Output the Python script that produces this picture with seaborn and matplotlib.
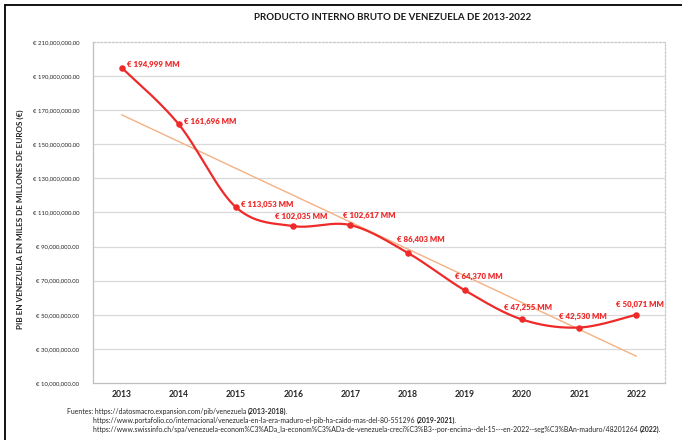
import numpy as np
import pandas as pd
import matplotlib
matplotlib.use("Agg")
import matplotlib.pyplot as plt
from matplotlib.lines import Line2D
from matplotlib.ticker import FuncFormatter, FixedLocator
import seaborn as sns

# ---------------- data ----------------
years = ["2013", "2014", "2015", "2016", "2017", "2018", "2019", "2020", "2021", "2022"]
gdp_mm = [194999, 161696, 113053, 102035, 102617, 86403, 64370, 47255, 42530, 50071]  # millones de euros
y_ticks = [10e6, 30e6, 50e6, 70e6, 90e6, 110e6, 130e6, 150e6, 170e6, 190e6, 210e6]
title = "PRODUCTO INTERNO BRUTO DE VENEZUELA DE 2013-2022"
ylabel = "PIB EN VENEZUELA EN MILES DE MILLONES DE EUROS (€)"
sources = [
    ("Fuentes: https://datosmacro.expansion.com/pib/venezuela ", "(2013-2018)."),
    ("https://www.portafolio.co/internacional/venezuela-en-la-era-maduro-el-pib-ha-caido-mas-del-80-551296 ", "(2019-2021)."),
    ("https://www.swissinfo.ch/spa/venezuela-econom%C3%ADa_la-econom%C3%ADa-de-venezuela-creci%C3%B3--por-encima--del-15---en-2022--seg%C3%BAn-maduro/48201264 ", "(2022)."),
]

# label placement (pixel offsets from each point), style only
label_offsets = [(5, 3, "left"), (5, 3, "left"), (5, 3, "left"), (8, 6, "center"),
                 (19, 6, "center"), (13, 10, "center"), (14, 10, "center"),
                 (6, 8, "center"), (4, 8, "center"), (4, 7, "center")]

RED = "#EE2A2A"
TREND = "#F4B183"
GRID = "#D9D9D9"

sns.set_theme(style="white")
plt.rcParams["font.family"] = ["Lato", "DejaVu Sans"]

df = pd.DataFrame({"idx": np.arange(len(years)), "value": np.array(gdp_mm) * 1000.0})

# Excel-like smoothed line (Catmull-Rom / Bezier through the points)
def smooth(x, y, n=40):
    x = np.asarray(x, float); y = np.asarray(y, float)
    P = np.column_stack([x, y])
    out = []
    for i in range(len(P) - 1):
        p0 = P[i - 1] if i > 0 else P[i]
        p1 = P[i]
        p2 = P[i + 1]
        p3 = P[i + 2] if i + 2 < len(P) else P[i + 1]
        c1 = p1 + (p2 - p0) / 6.0
        c2 = p2 - (p3 - p1) / 6.0
        t = np.linspace(0, 1, n)[:, None]
        seg = ((1 - t) ** 3) * p1 + 3 * ((1 - t) ** 2) * t * c1 + 3 * (1 - t) * t ** 2 * c2 + t ** 3 * p2
        out.append(seg if i == 0 else seg[1:])
    s = np.vstack(out)
    return s[:, 0], s[:, 1]

sx, sy = smooth(df["idx"], df["value"])
curve = pd.DataFrame({"x": sx, "y": sy})

fig = plt.figure(figsize=(6.82, 4.40), dpi=100)
ax = fig.add_axes([93 / 682, 1 - 383 / 440, (665 - 93) / 682, (383 - 42) / 440])

# grid
for t in y_ticks[1:-1]:
    ax.axhline(t, color=GRID, lw=0.9, zorder=0)

# trend line
sns.regplot(data=df, x="idx", y="value", scatter=False, ci=None, truncate=True,
            line_kws=dict(color=TREND, lw=1.0, zorder=2), ax=ax)
# smooth line
sns.lineplot(data=curve, x="x", y="y", color=RED, lw=1.6, sort=False, ax=ax, zorder=3)
# markers
sns.scatterplot(data=df, x="idx", y="value", color=RED, s=22, edgecolor=RED, linewidth=0, ax=ax, zorder=4)

for (i, v), (dx, dy, ha) in zip(enumerate(gdp_mm), label_offsets):
    ax.annotate(f"€ {v:,} MM", (i, v * 1000.0), xytext=(dx, dy), textcoords="offset pixels",
                ha=ha, va="bottom" if ha == "center" else "center",
                color=RED, fontsize=5.7, fontweight="heavy", zorder=5)

ax.set_xlim(-0.5, len(years) - 0.5)
ax.set_ylim(y_ticks[0], y_ticks[-1])
ax.set_xticks(range(len(years)))
ax.set_xticklabels(years, fontsize=6.2, fontweight="bold", color="#262626")
ax.xaxis.set_minor_locator(FixedLocator(np.arange(-0.5, len(years), 1.0)))
ax.tick_params(axis="x", which="major", length=0, pad=5)
ax.tick_params(axis="x", which="minor", length=4, color="#BFBFBF", width=0.8, direction="out")
ax.set_yticks(y_ticks)
ax.yaxis.set_major_formatter(FuncFormatter(lambda v, p: f"€ {v:,.2f}"))
ax.tick_params(axis="y", length=0, labelsize=4.3, labelcolor="#262626", pad=10)
ax.set_xlabel("")
ax.set_ylabel("")

for side in ["left", "bottom"]:
    ax.spines[side].set_color("#BFBFBF")
    ax.spines[side].set_linewidth(0.9)
for side in ["top", "right"]:
    ax.spines[side].set_color("#C8C8C8")
    ax.spines[side].set_linewidth(0.9)
    ax.spines[side].set_linestyle((0, (1.5, 1.5)))

fig.text(393 / 682, 1 - 18 / 440, title, ha="center", va="center", fontsize=7.0,
         fontweight="bold", color="#1a1a1a")
fig.text(20 / 682, 1 - 219 / 440, ylabel, rotation=90, ha="center", va="center",
         fontsize=5.9, fontweight="bold", color="#262626")

# sources
fig.canvas.draw()
renderer = fig.canvas.get_renderer()
starts = [(67, 411), (93, 420), (93, 429)]
for (reg, bold), (x0, y0) in zip(sources, starts):
    t = fig.text(x0 / 682, 1 - y0 / 440, reg, ha="left", va="center", fontsize=4.95, color="#262626")
    bb = t.get_window_extent(renderer)
    fig.text(bb.x1 / fig.bbox.width, 1 - y0 / 440, bold, ha="left", va="center",
             fontsize=4.95, fontweight="bold", color="#262626")

# outer frame (top and left)
fig.add_artist(Line2D([5 / 682, 1.0], [1 - 5 / 440, 1 - 5 / 440], color="black", lw=1.3, transform=fig.transFigure))
fig.add_artist(Line2D([5 / 682, 5 / 682], [0.0, 1 - 5 / 440], color="black", lw=1.3, transform=fig.transFigure))

fig.savefig("out.png", dpi=100)
